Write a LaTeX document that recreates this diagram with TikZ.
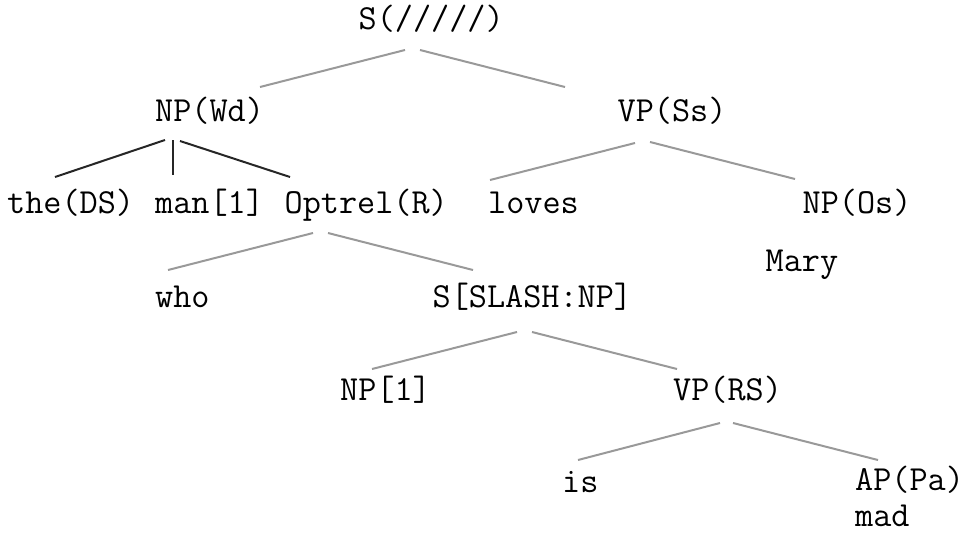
\documentclass[tikz,border=0pt]{standalone}
\usepackage{tikz}

\begin{document}
\begin{tikzpicture}[x=1pt, y=-1pt,
  word/.style={anchor=base west, inner sep=0pt,
    font=\ttfamily\fontsize{35.2}{42}\selectfont},
  branch/.style={draw=black!40, line width=2pt},
  headbranch/.style={draw=black!85, line width=2pt}
]
  \useasboundingbox (0,0) rectangle (965,533);
  % words on a character grid
  \node[word] (s)      at (358.5,29)  {S(/////)};
  \node[word] (npwd)   at (155,121)   {NP(Wd)};
  \node[word] (vpss)   at (617.5,121) {VP(Ss)};
  \node[word] (the)    at (7,213)     {the(DS)};
  \node[word] (man)    at (155,213)   {man[1]};
  \node[word] (optrel) at (284.5,213) {Optrel(R)};
  \node[word] (loves)  at (488,213)   {loves};
  \node[word] (npos)   at (802.5,213) {NP(Os)};
  \node[word] (mary)   at (765.5,271) {Mary};
  \node[word] (who)    at (155,307)   {who};
  \node[word] (sslash) at (432.5,307) {S[SLASH:NP]};
  \node[word] (npone)  at (340,400)   {NP[1]};
  \node[word] (vprs)   at (673,400)   {VP(RS)};
  \node[word] (is)     at (562,492)   {is};
  \node[word] (appa)   at (855,490)   {AP(Pa)};
  \node[word] (mad)    at (855,526)   {mad};
  % branches
  \draw[branch] ([shift={(46.5,21)}]s.base west) -- ([shift={(105,-34)}]npwd.base west);
  \draw[branch] ([shift={(61.5,21)}]s.base west) -- ([shift={(-52.5,-34)}]vpss.base west);
  \draw[headbranch] ([shift={(10,19)}]npwd.base west) -- ([shift={(48,-36)}]the.base west);
  \draw[headbranch] ([shift={(18,19)}]npwd.base west) -- ([shift={(18,-38)}]man.base west);
  \draw[headbranch] ([shift={(25,20)}]npwd.base west) -- ([shift={(5.5,-36)}]optrel.base west);
  \draw[branch] ([shift={(17.5,22)}]vpss.base west) -- ([shift={(2,-33)}]loves.base west);
  \draw[branch] ([shift={(32.5,21)}]vpss.base west) -- ([shift={(-7.5,-34)}]npos.base west);
  \draw[branch] ([shift={(28.5,20)}]optrel.base west) -- ([shift={(13,-37)}]who.base west);
  \draw[branch] ([shift={(43.5,20)}]optrel.base west) -- ([shift={(40.5,-37)}]sslash.base west);
  \draw[branch] ([shift={(84.5,25)}]sslash.base west) -- ([shift={(32,-31)}]npone.base west);
  \draw[branch] ([shift={(99.5,25)}]sslash.base west) -- ([shift={(4,-31)}]vprs.base west);
  \draw[branch] ([shift={(47,23)}]vprs.base west) -- ([shift={(16,-32)}]is.base west);
  \draw[branch] ([shift={(60,23)}]vprs.base west) -- ([shift={(23,-30)}]appa.base west);
\end{tikzpicture}
\end{document}
